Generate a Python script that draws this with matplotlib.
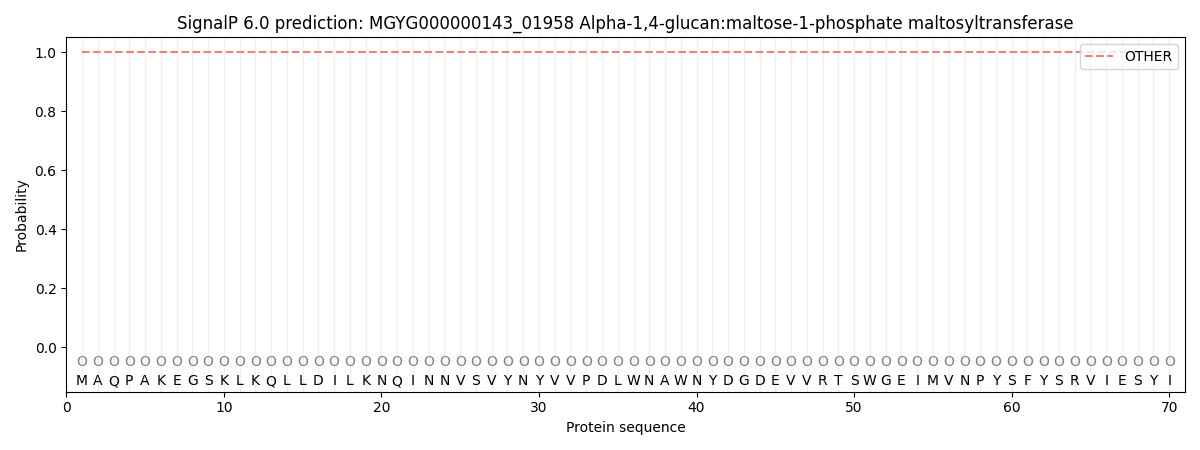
import matplotlib
matplotlib.use("Agg")
import matplotlib.pyplot as plt
import numpy as np

title = "SignalP 6.0 prediction: MGYG000000143_01958 Alpha-1,4-glucan:maltose-1-phosphate maltosyltransferase"
sequence = list("MAQPAKEGSKLKQLLDILKNQINNVSVYNYVVPDLWNAWNYDGDEVVRTSWGEIMVNPYSFYSRVIESYI")
positions = np.arange(1, len(sequence) + 1)
prob_other = [1.0] * len(sequence)
labels = ["O"] * len(sequence)

fig, ax = plt.subplots(figsize=(12, 4.5), dpi=100)

for p in positions:
    ax.axvline(p, color="#e0e0e0", linewidth=1, alpha=0.5, zorder=0)

ax.plot(positions, prob_other, linestyle="--", color="#f08080", label="OTHER")

for p, aa, lab in zip(positions, sequence, labels):
    ax.text(p, -0.05, lab, ha="center", va="center", color="gray", fontsize=10)
    ax.text(p, -0.09, aa, ha="center", va="top", color="black", fontsize=10)

ax.set_xlim(0, 71)
ax.set_ylim(-0.15, 1.05)
ax.set_xlabel("Protein sequence")
ax.set_ylabel("Probability")
ax.set_title(title)
ax.legend(loc="upper right")

plt.tight_layout()
plt.savefig("out.png")
